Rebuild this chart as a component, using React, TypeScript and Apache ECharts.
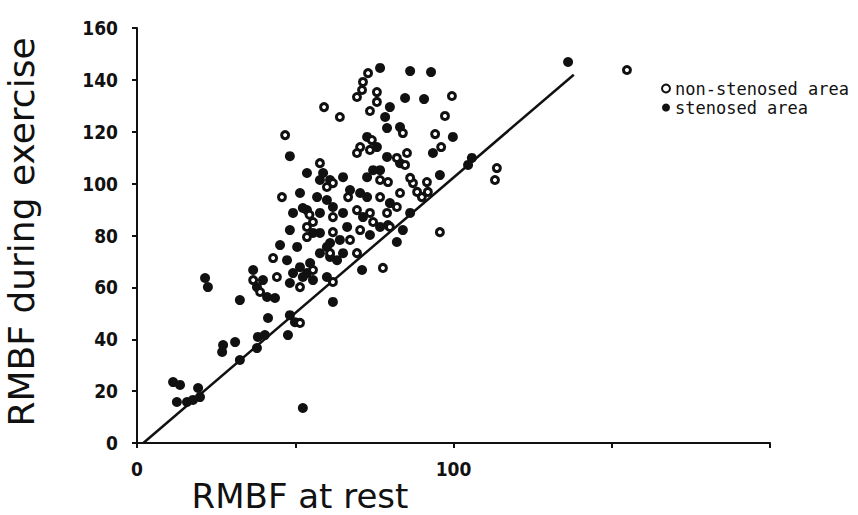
import React, { useEffect, useRef } from "react";
import * as echarts from "echarts";

// RMBF at rest (x) / during exercise (y)
const openRest = [59.1, 64.1, 46.8, 57.8, 45.8, 73.0, 71.4, 71.1, 75.8, 69.5, 75.8, 99.5, 73.6, 97.3, 94.2, 84.0, 96.1, 70.5, 74.2, 73.6, 69.5, 82.1, 85.3, 84.7, 61.9, 76.8, 79.3, 66.7, 76.8, 83.1, 82.1, 87.2, 91.6, 88.5, 91.9, 90.0, 86.3, 61.9, 69.5, 73.6, 74.6, 79.0, 79.3, 55.6, 61.9, 70.5, 79.9, 95.7, 53.7, 67.3, 61.0, 55.6, 51.5, 77.7, 69.5, 61.9, 51.5, 53.7, 43.0, 36.7, 44.2, 38.9, 154.8, 113.7, 113.1, 54.5, 60.0];
const openExercise = [129.5, 125.7, 118.7, 107.9, 94.8, 142.6, 139.2, 136.1, 135.3, 133.4, 131.5, 133.8, 128.0, 126.1, 119.1, 119.5, 114.1, 114.1, 116.8, 113.0, 111.8, 109.9, 111.8, 107.2, 100.2, 101.4, 100.6, 94.8, 94.8, 96.4, 91.0, 100.2, 100.6, 96.8, 96.8, 94.8, 102.2, 87.1, 89.8, 88.7, 85.2, 88.7, 84.0, 85.2, 81.3, 82.1, 83.3, 81.3, 83.3, 78.3, 73.2, 66.7, 60.1, 67.5, 73.2, 62.1, 46.3, 79.4, 71.3, 62.8, 64.0, 58.2, 143.8, 106.0, 101.4, 88.0, 98.7];

const stenRest = [48.3, 51.5, 76.8, 86.3, 92.9, 84.7, 90.7, 79.9, 78.4, 79.0, 83.1, 99.8, 93.5, 72.7, 75.8, 79.0, 83.1, 76.8, 53.7, 57.8, 65.1, 72.7, 74.6, 67.3, 70.5, 72.7, 79.9, 95.7, 105.8, 104.6, 53.7, 57.8, 65.1, 71.4, 86.3, 76.8, 57.8, 66.4, 73.6, 84.0, 82.1, 71.1, 61.9, 52.4, 55.6, 61.0, 64.1, 63.2, 54.7, 52.4, 57.8, 65.1, 48.3, 45.2, 50.6, 60.0, 47.4, 51.5, 49.3, 53.7, 61.0, 36.7, 39.8, 48.3, 55.6, 60.0, 41.1, 43.6, 37.9, 32.5, 21.5, 22.4, 41.4, 48.3, 49.9, 47.7, 38.2, 40.4, 31.0, 27.2, 26.9, 37.9, 32.5, 11.4, 13.6, 19.3, 19.9, 12.6, 15.8, 17.7, 136.2, 52.4, 49.3, 60.0, 61.9, 61.0, 58.8, 56.9];
const stenExercise = [110.6, 96.4, 144.6, 143.4, 143.0, 133.0, 132.6, 129.5, 125.7, 121.4, 121.8, 118.0, 111.8, 118.0, 114.1, 110.3, 107.9, 105.2, 104.1, 101.4, 102.5, 102.5, 105.2, 97.5, 96.4, 94.8, 92.5, 103.3, 109.9, 107.2, 89.8, 88.7, 88.7, 87.1, 88.7, 83.3, 81.0, 83.3, 80.2, 82.1, 77.5, 66.7, 54.4, 13.5, 81.0, 77.1, 78.3, 70.5, 69.4, 64.0, 73.2, 73.2, 82.1, 76.3, 75.6, 75.6, 70.5, 67.8, 65.5, 65.5, 71.7, 66.7, 62.8, 61.7, 62.8, 64.0, 56.3, 55.9, 60.1, 55.1, 63.6, 60.1, 48.2, 49.3, 46.6, 41.6, 40.9, 41.6, 38.9, 37.8, 35.1, 36.6, 32.0, 23.5, 22.4, 21.2, 17.7, 15.8, 15.8, 16.6, 146.9, 90.6, 88.7, 93.7, 91.0, 101.4, 104.1, 94.8];

const lineRest = [2, 138];
const lineExercise = [0, 142];

const xTickLabels = ["0", "100"];
const seriesNames = ["non-stenosed area", "stenosed area"];
const xTitle = "RMBF at rest";
const yTitle = "RMBF during exercise";

export default function App() {
  const ref = useRef<HTMLDivElement>(null);
  useEffect(() => {
    if (!ref.current) return;
    const chart = echarts.init(ref.current, undefined, { renderer: "svg" });
    const pairs = (xs: number[], ys: number[]) => xs.map((x, i) => [x, ys[i]]);
    const tickFont = "'Liberation Sans Narrow', 'DejaVu Sans Condensed', 'Liberation Sans', sans-serif";
    chart.setOption({
      animation: false,
      backgroundColor: "#fff",
      grid: { left: 137, right: 88, top: 28, bottom: 72 },
      xAxis: {
        type: "value",
        min: 0,
        max: 200,
        interval: 50,
        splitLine: { show: false },
        axisLine: { show: true, onZero: false, lineStyle: { color: "#111", width: 2 } },
        axisTick: { show: true, length: 5, lineStyle: { color: "#111", width: 2 } },
        axisLabel: {
          margin: 16,
          color: "#111",
          fontFamily: tickFont,
          fontWeight: "bold",
          fontSize: 19,
          formatter: (v: number) => (xTickLabels.includes(String(v)) ? String(v) : ""),
        },
      },
      yAxis: {
        type: "value",
        min: 0,
        max: 160,
        interval: 20,
        splitLine: { show: false },
        axisLine: { show: true, onZero: false, lineStyle: { color: "#111", width: 2 } },
        axisTick: { show: true, length: 5, lineStyle: { color: "#111", width: 2 } },
        axisLabel: {
          margin: 19,
          color: "#111",
          fontFamily: tickFont,
          fontWeight: "bold",
          fontSize: 19,
        },
      },
      legend: {
        orient: "vertical",
        left: 656,
        top: 75,
        itemWidth: 8,
        itemHeight: 8,
        itemGap: 2,
        icon: "circle",
        textStyle: {
          fontFamily: "'DejaVu Sans Mono', monospace",
          fontSize: 17,
          color: "#111",
          lineHeight: 15,
        },
        data: [
          { name: seriesNames[0], itemStyle: { color: "#fff", borderColor: "#111", borderWidth: 2, opacity: 1 } },
          { name: seriesNames[1], itemStyle: { color: "#111", borderWidth: 0, opacity: 1 } },
        ],
      },
      graphic: [
        {
          type: "text",
          x: 300,
          y: 496,
          style: {
            text: xTitle,
            fontFamily: "'DejaVu Sans', sans-serif",
            fontSize: 34,
            fill: "#111",
            align: "center",
            verticalAlign: "middle",
          },
        },
        {
          type: "text",
          x: 21,
          y: 232,
          rotation: Math.PI / 2,
          style: {
            text: yTitle,
            fontFamily: "'DejaVu Sans', sans-serif",
            fontSize: 36,
            fill: "#111",
            align: "center",
            verticalAlign: "middle",
          },
        },
      ],
      series: [
        {
          type: "line",
          data: pairs(lineRest, lineExercise),
          symbol: "none",
          lineStyle: { color: "#111", width: 2.5 },
          silent: true,
          z: 1,
        },
        {
          name: seriesNames[1],
          type: "scatter",
          data: pairs(stenRest, stenExercise),
          symbol: "circle",
          symbolSize: 10,
          itemStyle: { color: "#111", opacity: 1 },
          z: 2,
        },
        {
          name: seriesNames[0],
          type: "scatter",
          data: pairs(openRest, openExercise),
          symbol: "circle",
          symbolSize: 7,
          itemStyle: { color: "#fff", borderColor: "#111", borderWidth: 3, opacity: 1 },
          z: 3,
        },
      ],
    });
    return () => chart.dispose();
  }, []);
  return (
    <div
      ref={ref}
      style={{ position: "fixed", left: 0, top: 0, width: 858, height: 515, background: "#fff" }}
    />
  );
}
